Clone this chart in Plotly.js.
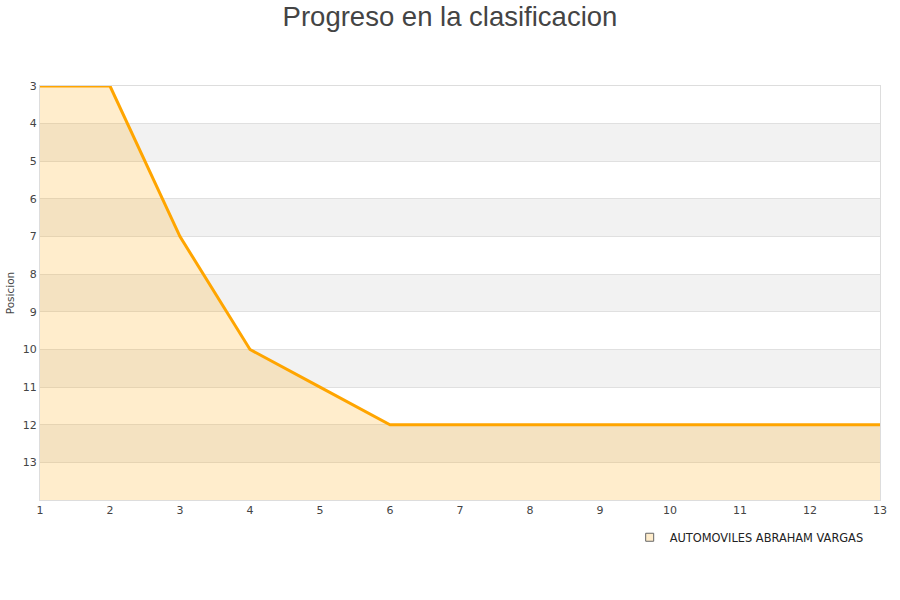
<!DOCTYPE html>
<html>
<head>
<meta charset="utf-8">
<script src="https://cdn.plot.ly/plotly-3.0.1.min.js"></script>
<style>html,body{margin:0;padding:0;background:#fff}#chart{width:900px;height:600px}</style>
</head>
<body>
<div id="chart"></div>
<script>
const jornadas = [1,2,3,4,5,6,7,8,9,10,11,12,13];
const posiciones = [3,3,7,10,11,12,12,12,12,12,12,12,12];
const equipo = "AUTOMOVILES ABRAHAM VARGAS";
const yTicks = [3,4,5,6,7,8,9,10,11,12,13];
const yBottom = 14;

const baseline = jornadas.map(() => yBottom);

const shapes = [];
for (let v = 4; v < yBottom; v += 2) {
  shapes.push({type:'rect', xref:'paper', yref:'y', x0:0, x1:1, y0:v, y1:v+1,
    fillcolor:'#f2f2f2', line:{width:0}, layer:'below'});
}

const traces = [
  {x: jornadas, y: baseline, mode:'lines', line:{width:0, color:'rgba(0,0,0,0)'},
   showlegend:false, hoverinfo:'skip'},
  {x: jornadas, y: posiciones, mode:'lines', name: equipo, fill:'tonexty',
   fillcolor:'rgba(255,165,0,0.2)', line:{color:'#ffa500', width:3}, showlegend:false},
  {x:[null], y:[null], mode:'markers', name: equipo,
   marker:{symbol:'square', size:8, color:'#ffedcc', line:{color:'#666', width:1}}}
];

const layout = {
  width:900, height:600,
  paper_bgcolor:'#fff', plot_bgcolor:'#fff',
  margin:{l:40, r:20, t:86, b:100},
  title:{text:'Progreso en la clasificacion', x:0.5, xanchor:'center', y:0.988, yanchor:'top',
    font:{family:'Liberation Sans, Arial, sans-serif', size:27.5, color:'#444'}},
  xaxis:{range:[1,13], tickvals:jornadas, showgrid:false, zeroline:false,
    showline:true, linecolor:'#ddd', mirror:true, ticks:'',
    tickfont:{family:'DejaVu Sans, sans-serif', size:11, color:'#444'}},
  yaxis:{range:[yBottom,3], tickvals:yTicks, showgrid:true, gridcolor:'#e0e0e0', zeroline:false,
    showline:true, linecolor:'#ddd', mirror:true, ticks:'',
    title:{text:'Posicion', standoff:6, font:{family:'DejaVu Sans, sans-serif', size:10.5, color:'#444'}},
    tickfont:{family:'DejaVu Sans, sans-serif', size:11, color:'#444'}},
  shapes: shapes,
  showlegend:true,
  legend:{orientation:'h', x:0.702, xanchor:'left', y:-0.09, yanchor:'middle',
    font:{family:'DejaVu Sans, sans-serif', size:11.4, color:'#222'}, bgcolor:'rgba(0,0,0,0)'}
};

Plotly.newPlot('chart', traces, layout, {displayModeBar:false});
</script>
</body>
</html>
